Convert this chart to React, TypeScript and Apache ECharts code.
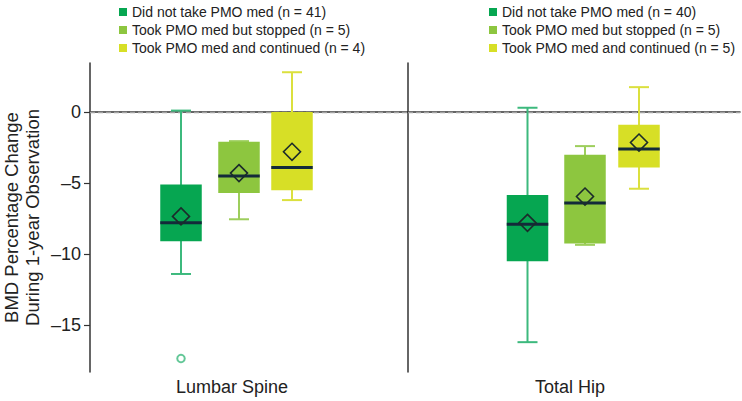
import React, { useEffect, useRef } from "react";
import * as echarts from "echarts";

const sites = ["Lumbar Spine", "Total Hip"];
const groupNames = [
  "Did not take PMO med",
  "Took PMO med but stopped",
  "Took PMO med and continued",
];
const lumbarN = [41, 5, 4];
const hipN = [40, 5, 5];
// [min, Q1, median, Q3, max]
const lumbarBoxes = [
  [-11.4, -9.1, -7.8, -5.1, 0.1],
  [-7.55, -5.7, -4.5, -2.1, -2.05],
  [-6.2, -5.5, -3.9, 0.0, 2.8],
];
const hipBoxes = [
  [-16.2, -10.5, -7.9, -5.85, 0.3],
  [-9.35, -9.25, -6.4, -3.0, -2.4],
  [-5.4, -3.9, -2.6, -0.9, 1.75],
];
const lumbarMeans = [-7.35, -4.3, -2.8];
const hipMeans = [-7.8, -5.95, -2.15];
// outliers per group
const lumbarOutliers = [[-17.35], [], []];
const hipOutliers = [[], [], []];
const yTicks = [-15, -10, -5, 0];
const yMin = -18.3;
const yMax = 3.45;

// styles / layout
const FONT = "'Liberation Sans', Arial, Helvetica, sans-serif";
const boxColors = ["#06a651", "#8dc63f", "#d7df26"];
const whiskerColors = ["#3cb97d", "#9dce5c", "#dbe03e"];
const panelOffsets = [
  [-68, -10, 43],
  [-46.5, 11, 65],
];
const BOX_W = 41.5;
const CAP_W = 20;
const DIAMOND = 8.5;

function makeRender(offset: number, boxColor: string, whiskerColor: string) {
  return (params: any, api: any) => {
    const cat = api.value(0);
    const x = api.coord([cat, 0])[0] + offset;
    const y = (i: number) => api.coord([cat, api.value(i)])[1];
    const yLo = y(1), yQ1 = y(2), yMed = y(3), yQ3 = y(4), yHi = y(5), yMean = y(6);
    const ws = { stroke: whiskerColor, lineWidth: 2 };
    return {
      type: "group",
      children: [
        { type: "line", shape: { x1: x, y1: yHi, x2: x, y2: yLo }, style: ws },
        { type: "line", shape: { x1: x - CAP_W / 2, y1: yHi, x2: x + CAP_W / 2, y2: yHi }, style: ws },
        { type: "line", shape: { x1: x - CAP_W / 2, y1: yLo, x2: x + CAP_W / 2, y2: yLo }, style: ws },
        {
          type: "rect",
          shape: { x: x - BOX_W / 2, y: yQ3, width: BOX_W, height: yQ1 - yQ3 },
          style: { fill: boxColor },
        },
        {
          type: "line",
          shape: { x1: x - BOX_W / 2, y1: yMed, x2: x + BOX_W / 2, y2: yMed },
          style: { stroke: "#132a3a", lineWidth: 3 },
        },
        {
          type: "polygon",
          shape: {
            points: [
              [x, yMean - DIAMOND],
              [x + DIAMOND, yMean],
              [x, yMean + DIAMOND],
              [x - DIAMOND, yMean],
            ],
          },
          style: { fill: "none", stroke: "#1b2b2b", lineWidth: 1.6 },
        },
      ],
    };
  };
}

export default function App() {
  const ref = useRef<HTMLDivElement>(null);
  useEffect(() => {
    document.body.style.margin = "0";
    if (!ref.current) return;
    const chart = echarts.init(ref.current, undefined, { renderer: "svg" });

    const panels = [
      { boxes: lumbarBoxes, means: lumbarMeans, ns: lumbarN, outliers: lumbarOutliers },
      { boxes: hipBoxes, means: hipMeans, ns: hipN, outliers: hipOutliers },
    ];

    const series: any[] = [];
    panels.forEach((p, pi) => {
      p.boxes.forEach((b, g) => {
        const s: any = {
          type: "custom",
          name: `${groupNames[g]} (n = ${p.ns[g]})`,
          xAxisIndex: pi,
          yAxisIndex: pi,
          itemStyle: { color: boxColors[g] },
          encode: { x: 0, y: [1, 2, 3, 4, 5, 6] },
          renderItem: makeRender(panelOffsets[pi][g], boxColors[g], whiskerColors[g]),
          data: [[0, ...b, p.means[g]]],
          z: 3,
        };
        if (g === 0) {
          s.markLine = {
            silent: true,
            symbol: "none",
            label: { show: false },
            lineStyle: { type: [5, 3], color: "#a0a0a0", width: 1.4 },
            data: [{ yAxis: 0 }],
            z: 2,
          };
        }
        series.push(s);
        if (p.outliers[g].length) {
          series.push({
            type: "scatter",
            name: "Outlier",
            xAxisIndex: pi,
            yAxisIndex: pi,
            symbol: "circle",
            symbolSize: 7.5,
            symbolOffset: [panelOffsets[pi][g], 0],
            itemStyle: { color: "#ffffff", borderColor: whiskerColors[g], borderWidth: 2 },
            data: p.outliers[g].map((v) => [0, v]),
            z: 4,
          });
        }
      });
    });

    const axisLine = { show: true, lineStyle: { color: "#333333", width: 1.5 } };

    chart.setOption({
      animation: false,
      legend: [
        {
          orient: "vertical",
          left: 114,
          top: 0,
          icon: "rect",
          itemWidth: 8,
          itemHeight: 8,
          itemGap: 4,
          selectedMode: false,
          textStyle: { fontSize: 14, color: "#222222", fontFamily: FONT },
          data: groupNames.map((n, g) => `${n} (n = ${lumbarN[g]})`),
        },
        {
          orient: "vertical",
          left: 484,
          top: 0,
          icon: "rect",
          itemWidth: 8,
          itemHeight: 8,
          itemGap: 4,
          selectedMode: false,
          textStyle: { fontSize: 14, color: "#222222", fontFamily: FONT },
          data: groupNames.map((n, g) => `${n} (n = ${hipN[g]})`),
        },
      ],
      grid: [
        { left: 86, width: 322, top: 63, bottom: 29 },
        { left: 408, width: 332, top: 63, bottom: 29 },
      ],
      xAxis: [
        {
          type: "category",
          gridIndex: 0,
          data: [sites[0]],
          axisLine,
          axisTick: { show: false },
          axisLabel: {
            fontSize: 18,
            color: "#222222",
            fontFamily: FONT,
            margin: 6,
            padding: [0, 34, 0, 0],
          },
        },
        {
          type: "category",
          gridIndex: 1,
          data: [sites[1]],
          axisLine,
          axisTick: { show: false },
          axisLabel: {
            fontSize: 18,
            color: "#222222",
            fontFamily: FONT,
            margin: 6,
            padding: [0, 8, 0, 0],
          },
        },
      ],
      yAxis: [
        {
          type: "value",
          gridIndex: 0,
          min: yMin,
          max: yMax,
          splitLine: { show: false },
          axisLine,
          axisTick: {
            show: true,
            length: 6,
            lineStyle: { color: "#333333", width: 1.2 },
            customValues: yTicks,
          },
          axisLabel: {
            fontSize: 18,
            color: "#222222",
            fontFamily: FONT,
            margin: 9,
            customValues: yTicks,
            formatter: (v: number) => (v < 0 ? "\u2013" + Math.abs(v) : String(v)),
          },
          name: "BMD Percentage Change\nDuring 1-year Observation",
          nameLocation: "middle",
          nameGap: 47,
          nameTextStyle: {
            fontSize: 18.5,
            lineHeight: 21,
            color: "#222222",
            fontFamily: FONT,
          },
        },
        {
          type: "value",
          gridIndex: 1,
          min: yMin,
          max: yMax,
          splitLine: { show: false },
          axisLine,
          axisTick: { show: false },
          axisLabel: { show: false },
        },
      ],
      series,
    });
    return () => chart.dispose();
  }, []);
  return <div ref={ref} style={{ width: 742, height: 401 }} />;
}
